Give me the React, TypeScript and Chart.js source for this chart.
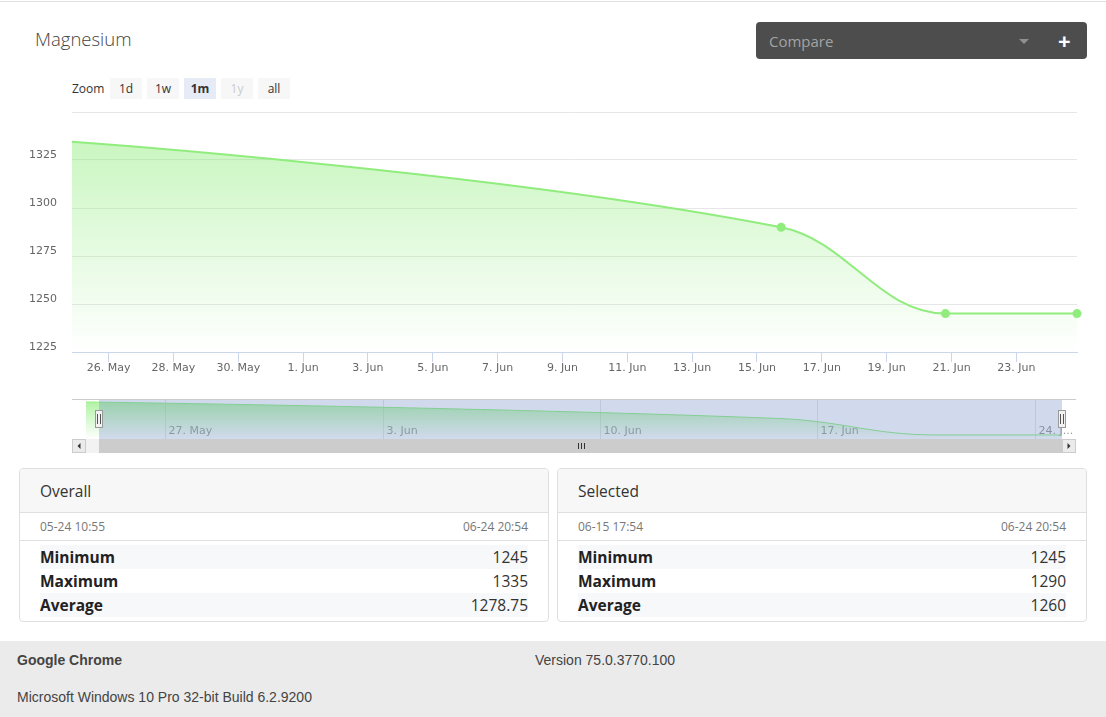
import React, { useEffect, useRef } from 'react';
import { Chart, registerables } from 'chart.js';

Chart.register(...registerables);

// ---------------- data ----------------
const chartTitle = 'Magnesium';
const seriesTimes = ['2019-05-24T10:55', '2019-06-15T17:54', '2019-06-20T19:30', '2019-06-24T20:54'];
const seriesValues = [1335, 1290, 1245, 1245];
const viewStart = '2019-05-24T20:54';
const viewEnd = '2019-06-24T20:54';

const xTickDates = ['2019-05-26', '2019-05-28', '2019-05-30', '2019-06-01', '2019-06-03', '2019-06-05', '2019-06-07', '2019-06-09', '2019-06-11', '2019-06-13', '2019-06-15', '2019-06-17', '2019-06-19', '2019-06-21', '2019-06-23'];
const xTickLabels = ['26. May', '28. May', '30. May', '1. Jun', '3. Jun', '5. Jun', '7. Jun', '9. Jun', '11. Jun', '13. Jun', '15. Jun', '17. Jun', '19. Jun', '21. Jun', '23. Jun'];
const yTicks = [1225, 1250, 1275, 1300, 1325, 1350];
const yTickLabels = ['1225', '1250', '1275', '1300', '1325', ''];
const yMin = 1225;
const yMax = 1350;

const navTickDates = ['2019-05-27', '2019-06-03', '2019-06-10', '2019-06-17', '2019-06-24'];
const navTickLabels = ['27. May', '3. Jun', '10. Jun', '17. Jun', '24. Jun'];
const navYMin = 1234;
const navYMax = 1343;

const zoomLabel = 'Zoom';
const zoomButtons = ['1d', '1w', '1m', '1y', 'all'];
const zoomActive = '1m';
const zoomDisabled = '1y';

const statLabels = ['Minimum', 'Maximum', 'Average'];
const overallRange = ['05-24 10:55', '06-24 20:54'];
const overallStats = ['1245', '1335', '1278.75'];
const selectedRange = ['06-15 17:54', '06-24 20:54'];
const selectedStats = ['1245', '1290', '1260'];

const footerBrowser = 'Google Chrome';
const footerVersion = 'Version 75.0.3770.100';
const footerOS = 'Microsoft Windows 10 Pro 32-bit Build 6.2.9200';

// ---------------- helpers ----------------
const t = (s: string) => new Date(s.length === 10 ? s + 'T00:00Z' : s + 'Z').getTime();
const GREEN = '#90ed7d';
const TICK_FONT = '"DejaVu Sans", Verdana, sans-serif';
const UI_FONT = '"Open Sans", "Noto Sans", sans-serif';
const BTN = 14;

const gradientFill = (alphaTop: number) => (ctx: any) => {
  const chart = ctx.chart;
  const a = chart.chartArea;
  if (!a) return 'rgba(144,237,125,0.3)';
  const g = chart.ctx.createLinearGradient(0, a.top, 0, a.bottom);
  g.addColorStop(0, `rgba(144,237,125,${alphaTop})`);
  g.addColorStop(1, 'rgba(144,237,125,0)');
  return g;
};

// Spline control points computed the same way as a classic "spline" series
const splinePlugin = {
  id: 'hcSpline',
  beforeDatasetsDraw(chart: any) {
    chart.getSortedVisibleDatasetMetas().forEach((meta: any) => {
      const pts = meta.data;
      const sm = 1.5;
      const den = sm + 1;
      for (let i = 0; i < pts.length; i++) {
        const p = pts[i];
        const prev = pts[i - 1];
        const next = pts[i + 1];
        let lx = p.x, ly = p.y, rx = p.x, ry = p.y;
        if (prev && next) {
          lx = (sm * p.x + prev.x) / den;
          ly = (sm * p.y + prev.y) / den;
          rx = (sm * p.x + next.x) / den;
          ry = (sm * p.y + next.y) / den;
          let c = 0;
          if (rx !== lx) c = ((ry - ly) * (rx - p.x)) / (rx - lx) + p.y - ry;
          ly += c;
          ry += c;
          if (ly > prev.y && ly > p.y) {
            ly = Math.max(prev.y, p.y);
            ry = 2 * p.y - ly;
          } else if (ly < prev.y && ly < p.y) {
            ly = Math.min(prev.y, p.y);
            ry = 2 * p.y - ly;
          }
          if (ry > next.y && ry > p.y) {
            ry = Math.max(next.y, p.y);
            ly = 2 * p.y - ry;
          } else if (ry < next.y && ry < p.y) {
            ry = Math.min(next.y, p.y);
            ly = 2 * p.y - ry;
          }
        }
        p.cp1x = lx;
        p.cp1y = ly;
        p.cp2x = rx;
        p.cp2y = ry;
      }
      if (meta.dataset) {
        meta.dataset._pointsUpdated = true;
        meta.dataset._path = undefined;
      }
    });
  },
};

const navPlugin = {
  id: 'navDecor',
  beforeDatasetsDraw(chart: any) {
    const { ctx, chartArea: a, scales } = chart;
    const xs = scales.x;
    ctx.save();
    ctx.strokeStyle = '#e6e6e6';
    ctx.lineWidth = 1;
    ctx.font = `11px ${TICK_FONT}`;
    ctx.fillStyle = '#999999';
    ctx.textBaseline = 'middle';
    ctx.textAlign = 'left';
    const limit = a.right + BTN;
    navTickDates.forEach((d, i) => {
      const x = Math.round(xs.getPixelForValue(t(d))) + 0.5;
      ctx.beginPath();
      ctx.moveTo(x, a.top);
      ctx.lineTo(x, a.bottom);
      ctx.stroke();
      let label = navTickLabels[i];
      const lx = x + 3;
      const room = limit - lx;
      if (ctx.measureText(label).width > room) {
        let s = label;
        while (s.length > 1 && ctx.measureText(s + '...').width > room) s = s.slice(0, -1);
        label = s + '...';
      }
      ctx.fillText(label, lx, a.bottom - 8);
    });
    ctx.restore();
  },
  afterDatasetsDraw(chart: any) {
    const { ctx, chartArea: a, scales } = chart;
    const xs = scales.x;
    const x0 = Math.round(xs.getPixelForValue(t(viewStart)));
    const x1 = Math.round(xs.getPixelForValue(t(viewEnd)));
    ctx.save();
    ctx.fillStyle = 'rgba(102,133,194,0.3)';
    ctx.fillRect(x0, a.top, x1 - x0, a.bottom - a.top);

    const L = a.left - BTN;
    const R = a.right + BTN;
    ctx.strokeStyle = '#cccccc';
    ctx.lineWidth = 1;
    ctx.beginPath();
    ctx.moveTo(L, a.top + 0.5);
    ctx.lineTo(R, a.top + 0.5);
    ctx.stroke();

    // scrollbar
    const sy = a.bottom;
    const sh = 14;
    ctx.fillStyle = '#f2f2f2';
    ctx.fillRect(L, sy, R - L, sh);
    ctx.fillStyle = '#cccccc';
    ctx.fillRect(x0, sy, x1 - x0, sh);
    [L, a.right].forEach((bx: number, k: number) => {
      ctx.fillStyle = '#ebebeb';
      ctx.fillRect(bx, sy, BTN, sh);
      ctx.strokeStyle = '#cccccc';
      ctx.strokeRect(bx + 0.5, sy + 0.5, BTN - 1, sh - 1);
      ctx.fillStyle = '#333333';
      const cx = bx + BTN / 2;
      const cy = sy + sh / 2;
      ctx.beginPath();
      if (k === 0) {
        ctx.moveTo(cx + 1.5, cy - 3);
        ctx.lineTo(cx - 1.5, cy);
        ctx.lineTo(cx + 1.5, cy + 3);
      } else {
        ctx.moveTo(cx - 1.5, cy - 3);
        ctx.lineTo(cx + 1.5, cy);
        ctx.lineTo(cx - 1.5, cy + 3);
      }
      ctx.closePath();
      ctx.fill();
    });
    const gx = Math.round((x0 + x1) / 2);
    ctx.strokeStyle = '#333333';
    for (const dx of [-3, 0, 3]) {
      ctx.beginPath();
      ctx.moveTo(gx + dx + 0.5, sy + 4);
      ctx.lineTo(gx + dx + 0.5, sy + 10);
      ctx.stroke();
    }

    // handles
    const hy = Math.round((a.top + a.bottom) / 2);
    [x0, x1].forEach((hx: number) => {
      const rx = hx - 4;
      ctx.fillStyle = '#f2f2f2';
      ctx.fillRect(rx, hy - 9, 8, 18);
      ctx.strokeStyle = '#999999';
      ctx.strokeRect(rx + 0.5, hy - 8.5, 7, 17);
      ctx.strokeStyle = '#555555';
      for (const dx of [-1, 2]) {
        ctx.beginPath();
        ctx.moveTo(hx + dx - 0.5, hy - 5);
        ctx.lineTo(hx + dx - 0.5, hy + 5);
        ctx.stroke();
      }
    });
    ctx.restore();
  },
};

function StatCard({ left, title, range, values }: { left: number; title: string; range: string[]; values: string[] }) {
  return (
    <div
      style={{
        position: 'absolute',
        left,
        top: 468,
        width: 530,
        height: 154,
        boxSizing: 'border-box',
        border: '1px solid #dfdfdf',
        borderRadius: 4,
        overflow: 'hidden',
        background: '#fff',
      }}
    >
      <div
        style={{
          height: 43,
          lineHeight: '44px',
          background: '#f7f7f7',
          borderBottom: '1px solid #dfdfdf',
          paddingLeft: 20,
          fontSize: 15.5,
          color: '#333',
        }}
      >
        {title}
      </div>
      <div
        style={{
          height: 27,
          lineHeight: '28px',
          borderBottom: '1px solid #dfdfdf',
          padding: '0 20px',
          fontSize: 12,
          color: '#777',
          display: 'flex',
          justifyContent: 'space-between',
        }}
      >
        <span>{range[0]}</span>
        <span>{range[1]}</span>
      </div>
      <div style={{ padding: '4px 20px 0 20px' }}>
        {statLabels.map((lab, i) => (
          <div
            key={lab}
            style={{
              height: 24,
              lineHeight: '24px',
              background: i % 2 === 0 ? '#f7f8fa' : '#fff',
              display: 'flex',
              justifyContent: 'space-between',
              fontSize: 15.5,
            }}
          >
            <span style={{ fontWeight: 700, color: '#222' }}>{lab}</span>
            <span style={{ color: '#333' }}>{values[i]}</span>
          </div>
        ))}
      </div>
    </div>
  );
}

export default function App() {
  const mainRef = useRef<HTMLCanvasElement>(null);
  const navRef = useRef<HTMLCanvasElement>(null);

  useEffect(() => {
    const points = seriesTimes.map((s, i) => ({ x: t(s), y: seriesValues[i] }));

    const main = new Chart(mainRef.current as HTMLCanvasElement, {
      type: 'line',
      data: {
        datasets: [
          {
            data: points,
            borderColor: GREEN,
            borderWidth: 2,
            tension: 0.4,
            capBezierPoints: false,
            pointRadius: [0, 4.5, 4.5, 4.5],
            pointBackgroundColor: GREEN,
            pointBorderColor: GREEN,
            pointBorderWidth: 0,
            fill: 'start',
            backgroundColor: gradientFill(0.55),
            clip: { left: 0, top: 8, right: 8, bottom: 0 },
          } as any,
        ],
      },
      options: {
        responsive: false,
        animation: false,
        events: [],
        layout: { padding: { top: 12, right: 29, left: 0, bottom: 0 } },
        plugins: { legend: { display: false }, tooltip: { enabled: false } },
        scales: {
          x: {
            type: 'linear',
            min: t(viewStart),
            max: t(viewEnd),
            afterBuildTicks: (s: any) => {
              s.ticks = xTickDates.map((d) => ({ value: t(d) }));
            },
            afterFit: (s: any) => {
              s.height = 38;
              s.paddingLeft = 0;
              s.paddingRight = 0;
              s.paddingTop = 0;
              s.paddingBottom = 0;
            },
            ticks: {
              autoSkip: false,
              maxRotation: 0,
              padding: 0,
              color: '#666666',
              font: { family: TICK_FONT, size: 11 },
              callback: (_v: any, i: number) => xTickLabels[i],
            },
            grid: { drawOnChartArea: false, drawTicks: true, tickLength: 10, color: '#ccd6eb' },
            border: { display: true, color: '#ccd6eb' },
          },
          y: {
            min: yMin,
            max: yMax,
            afterBuildTicks: (s: any) => {
              s.ticks = yTicks.map((v) => ({ value: v }));
            },
            afterFit: (s: any) => {
              s.width = 72;
              s.paddingTop = 0;
              s.paddingBottom = 0;
              s.paddingLeft = 0;
              s.paddingRight = 0;
            },
            ticks: {
              padding: 15,
              labelOffset: -5,
              color: '#666666',
              font: { family: TICK_FONT, size: 11 },
              callback: (_v: any, i: number) => yTickLabels[i],
            },
            grid: { color: '#e6e6e6', drawTicks: false },
            border: { display: false },
          },
        },
      } as any,
      plugins: [splinePlugin as any],
    });

    const nav = new Chart(navRef.current as HTMLCanvasElement, {
      type: 'line',
      data: {
        datasets: [
          {
            data: points,
            borderColor: GREEN,
            borderWidth: 1,
            tension: 0.4,
            capBezierPoints: false,
            pointRadius: 0,
            fill: 'start',
            backgroundColor: gradientFill(0.75),
          } as any,
        ],
      },
      options: {
        responsive: false,
        animation: false,
        events: [],
        layout: { padding: { top: 1, right: 44, left: 86, bottom: 17 } },
        plugins: { legend: { display: false }, tooltip: { enabled: false } },
        scales: {
          x: { type: 'linear', display: false, min: t(seriesTimes[0]), max: t(seriesTimes[seriesTimes.length - 1]) },
          y: { display: false, min: navYMin, max: navYMax },
        },
      } as any,
      plugins: [splinePlugin as any, navPlugin as any],
    });

    return () => {
      main.destroy();
      nav.destroy();
    };
  }, []);

  return (
    <div
      style={{
        position: 'absolute',
        left: 0,
        top: 0,
        width: 1106,
        height: 717,
        background: '#fff',
        overflow: 'hidden',
        fontFamily: UI_FONT,
      }}
    >
      <div style={{ position: 'absolute', left: 0, top: 1, width: 1106, height: 1, background: '#e0e0e0' }} />
      <div
        style={{
          position: 'absolute',
          left: 35,
          top: 26,
          height: 26,
          lineHeight: '26px',
          fontSize: 18.5,
          fontWeight: 300,
          color: '#444',
        }}
      >
        {chartTitle}
      </div>

      <div
        style={{
          position: 'absolute',
          left: 756,
          top: 22,
          width: 331,
          height: 37,
          background: '#4d4d4d',
          borderRadius: 4,
        }}
      >
        <div style={{ position: 'absolute', left: 13, top: 1, lineHeight: '37px', fontSize: 15, color: '#a3a3a3' }}>Compare</div>
        <div
          style={{
            position: 'absolute',
            left: 263,
            top: 17,
            width: 0,
            height: 0,
            borderLeft: '5px solid transparent',
            borderRight: '5px solid transparent',
            borderTop: '5px solid #8f8f8f',
          }}
        />
        <div
          style={{
            position: 'absolute',
            left: 302,
            top: 0,
            lineHeight: '37px',
            fontSize: 22,
            fontWeight: 700,
            color: '#fff',
          }}
        >
          +
        </div>
      </div>

      <div style={{ position: 'absolute', left: 72, top: 78, lineHeight: '21px', fontSize: 12, color: '#333' }}>{zoomLabel}</div>
      {zoomButtons.map((b, i) => (
        <div
          key={b}
          style={{
            position: 'absolute',
            left: 110 + i * 37,
            top: 78,
            width: 32,
            height: 21,
            lineHeight: '21px',
            textAlign: 'center',
            fontSize: 12,
            background: b === zoomActive ? '#e6ebf5' : '#f7f7f7',
            color: b === zoomDisabled ? '#cccccc' : '#333',
            fontWeight: b === zoomActive ? 700 : 400,
          }}
        >
          {b}
        </div>
      ))}

      <canvas ref={mainRef} width={1106} height={290} style={{ position: 'absolute', left: 0, top: 100, display: 'block' }} />
      <canvas ref={navRef} width={1106} height={58} style={{ position: 'absolute', left: 0, top: 398, display: 'block' }} />

      <StatCard left={19} title="Overall" range={overallRange} values={overallStats} />
      <StatCard left={557} title="Selected" range={selectedRange} values={selectedStats} />

      <div
        style={{
          position: 'absolute',
          left: 0,
          top: 641,
          width: 1106,
          height: 76,
          background: '#ebebeb',
          fontFamily: '"Liberation Sans", Arial, sans-serif',
          fontSize: 14,
          color: '#444',
        }}
      >
        <div style={{ position: 'absolute', left: 17, top: 9, lineHeight: '20px', fontWeight: 700 }}>{footerBrowser}</div>
        <div style={{ position: 'absolute', left: 535, top: 9, lineHeight: '20px' }}>{footerVersion}</div>
        <div style={{ position: 'absolute', left: 17, top: 46, lineHeight: '20px' }}>{footerOS}</div>
      </div>
    </div>
  );
}
